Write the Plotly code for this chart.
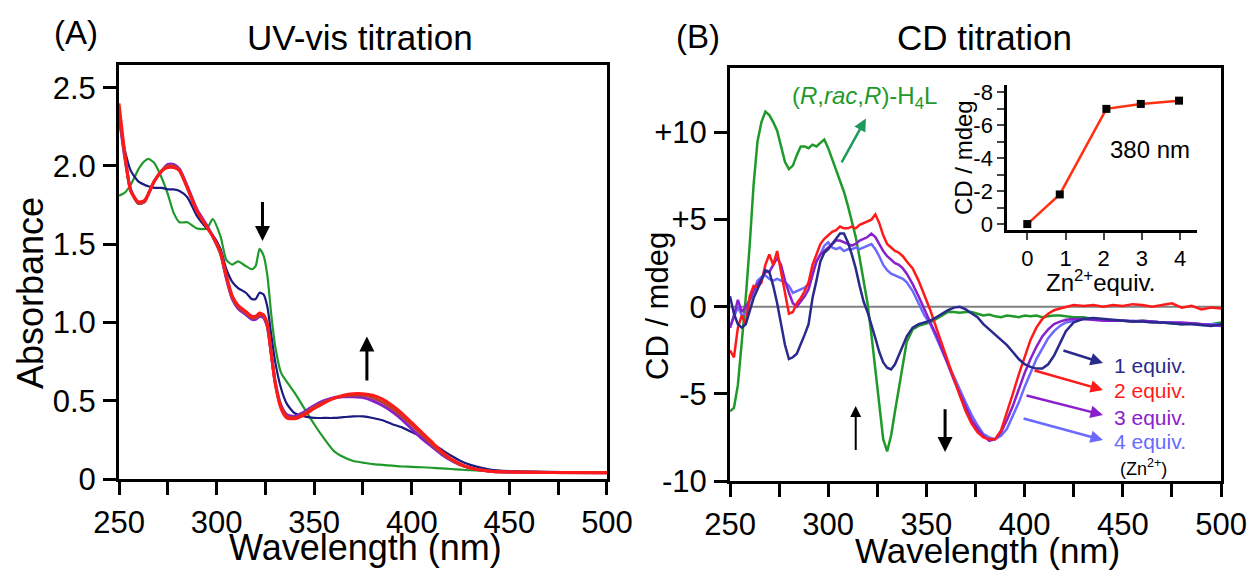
import plotly.graph_objects as go

# ---------------- Panel A: UV-vis titration ----------------
wl_a = [250, 253, 256, 260, 263, 265, 268, 272, 275, 278, 281, 285, 290, 295, 298, 302, 305, 308, 311, 315, 318, 320, 322, 324, 326, 328, 330, 333, 336, 340, 345, 350, 355, 360, 365, 370, 375, 380, 385, 390, 395, 400, 405, 410, 415, 420, 425, 430, 440, 450, 470, 500]
abs_ligand = [1.81, 1.83, 1.88, 1.98, 2.03, 2.045, 2.02, 1.92, 1.82, 1.70, 1.64, 1.64, 1.60, 1.60, 1.66, 1.55, 1.40, 1.37, 1.39, 1.36, 1.34, 1.36, 1.47, 1.43, 1.30, 1.05, 0.85, 0.68, 0.62, 0.55, 0.45, 0.35, 0.26, 0.18, 0.14, 0.115, 0.105, 0.095, 0.09, 0.085, 0.08, 0.078, 0.075, 0.072, 0.068, 0.064, 0.06, 0.056, 0.052, 0.048, 0.044, 0.04]
abs_eq1 = [2.30, 2.10, 1.97, 1.90, 1.88, 1.87, 1.86, 1.86, 1.85, 1.85, 1.84, 1.80, 1.68, 1.60, 1.56, 1.47, 1.34, 1.26, 1.22, 1.19, 1.15, 1.15, 1.19, 1.18, 1.10, 0.92, 0.75, 0.58, 0.48, 0.42, 0.40, 0.39, 0.39, 0.39, 0.395, 0.40, 0.40, 0.39, 0.375, 0.35, 0.33, 0.30, 0.27, 0.23, 0.19, 0.15, 0.115, 0.09, 0.06, 0.05, 0.045, 0.04]
abs_eq2 = [2.32, 2.05, 1.85, 1.76, 1.77, 1.82, 1.90, 1.97, 2.01, 2.01, 1.98, 1.87, 1.72, 1.62, 1.55, 1.44, 1.28, 1.15, 1.09, 1.05, 1.02, 1.02, 1.04, 1.03, 0.97, 0.80, 0.62, 0.47, 0.41, 0.40, 0.43, 0.47, 0.50, 0.52, 0.525, 0.525, 0.52, 0.50, 0.47, 0.43, 0.38, 0.32, 0.26, 0.21, 0.16, 0.12, 0.09, 0.07, 0.05, 0.045, 0.042, 0.04]
abs_eq3 = [2.35, 2.06, 1.84, 1.76, 1.77, 1.82, 1.90, 1.97, 2.00, 2.00, 1.97, 1.86, 1.71, 1.61, 1.55, 1.44, 1.29, 1.16, 1.10, 1.06, 1.03, 1.03, 1.05, 1.04, 0.98, 0.80, 0.62, 0.46, 0.40, 0.39, 0.42, 0.46, 0.49, 0.515, 0.53, 0.535, 0.535, 0.52, 0.49, 0.45, 0.40, 0.345, 0.285, 0.225, 0.17, 0.125, 0.09, 0.07, 0.05, 0.045, 0.042, 0.04]
abs_eq4 = [2.40, 2.08, 1.84, 1.77, 1.78, 1.82, 1.90, 1.97, 1.99, 1.99, 1.97, 1.86, 1.71, 1.61, 1.55, 1.45, 1.30, 1.17, 1.11, 1.07, 1.04, 1.04, 1.06, 1.05, 0.99, 0.80, 0.61, 0.45, 0.39, 0.385, 0.41, 0.45, 0.485, 0.515, 0.535, 0.545, 0.545, 0.535, 0.51, 0.47, 0.42, 0.36, 0.30, 0.24, 0.18, 0.13, 0.095, 0.07, 0.05, 0.045, 0.042, 0.04]

# ---------------- Panel B: CD titration ----------------
wl_b = [250, 252, 254, 256, 258, 260, 262, 264, 266, 268, 270, 272, 274, 276, 278, 280, 282, 284, 286, 288, 290, 292, 294, 296, 298, 300, 302, 304, 306, 308, 310, 312, 314, 316, 318, 320, 322, 324, 326, 328, 330, 332, 334, 336, 338, 340, 343, 346, 349, 352, 355, 358, 361, 364, 367, 370, 373, 376, 379, 382, 385, 388, 391, 394, 397, 400, 403, 406, 409, 412, 415, 418, 421, 425, 430, 435, 440, 445, 450, 455, 460, 465, 470, 475, 480, 485, 490, 495, 500]
cd_ligand = [-6.0, -5.8, -4.5, -2.0, 0.5, 3.5, 7.0, 9.5, 10.6, 11.2, 11.0, 10.6, 10.1, 9.2, 8.3, 7.9, 8.1, 8.7, 9.2, 9.2, 9.1, 9.3, 9.2, 9.4, 9.6, 9.1, 8.5, 7.9, 7.2, 6.6, 5.8, 4.9, 4.0, 2.8, 1.5, 0.2, -1.6, -3.6, -5.8, -7.6, -8.3, -7.4, -6.0, -4.6, -3.2, -2.0, -1.3, -1.1, -1.0, -0.9, -0.7, -0.5, -0.3, -0.3, -0.35, -0.3, -0.3, -0.4, -0.5, -0.45, -0.55, -0.6, -0.5, -0.55, -0.6, -0.5, -0.55, -0.5, -0.6, -0.55, -0.5, -0.5, -0.55, -0.6, -0.6, -0.7, -0.75, -0.8, -0.8, -0.85, -0.8, -0.85, -0.9, -0.95, -1.0, -0.95, -1.0, -1.0, -0.9]
cd_eq1 = [0.6, -0.4, -1.0, -1.2, -1.0, -0.2, 0.5, 1.0, 1.6, 2.1, 2.0, 1.2, 0.2, -1.0, -2.2, -3.0, -2.9, -2.7, -2.2, -1.6, -1.0, 0.5, 1.5, 2.6, 3.1, 3.3, 3.6, 3.9, 4.2, 4.2, 3.7, 3.0, 2.2, 1.2, 0.3, -0.3, -1.0, -1.8, -2.6, -3.2, -3.5, -3.6, -3.3, -2.8, -2.2, -1.7, -1.2, -1.0, -0.9, -0.8, -0.6, -0.4, -0.2, -0.05, 0.0, -0.15, -0.35, -0.6, -1.0, -1.3, -1.6, -1.9, -2.2, -2.6, -3.0, -3.3, -3.45, -3.55, -3.55, -3.3, -2.8, -2.1, -1.4, -0.9, -0.7, -0.65, -0.7, -0.75, -0.8, -0.85, -0.85, -0.9, -0.9, -0.95, -1.0, -1.0, -1.05, -1.1, -1.0]
cd_eq2 = [-2.5, -2.9, -1.2, -0.5, -1.0, 0.6, 1.2, 1.1, 1.4, 2.4, 3.0, 2.4, 3.2, 2.0, 0.6, -0.4, -0.3, 0.2, 0.5, 0.9, 1.4, 2.4, 3.0, 3.6, 3.9, 4.1, 4.3, 4.4, 4.6, 4.5, 4.5, 4.6, 4.5, 4.7, 4.8, 4.9, 5.0, 5.3, 4.8, 4.1, 3.6, 3.4, 3.2, 3.1, 2.9, 2.6, 2.2, 1.5, 0.7, -0.2, -1.2, -2.2, -3.2, -4.2, -5.1, -6.0, -6.7, -7.2, -7.5, -7.6, -7.6, -7.1, -6.1, -5.0, -3.9, -2.9, -1.9, -1.2, -0.7, -0.4, -0.2, -0.1, 0.0, 0.1, 0.05, 0.1, 0.0, 0.1, 0.05, 0.15, 0.1, 0.0, 0.1, 0.2, -0.05, 0.05, -0.15, -0.05, -0.1]
cd_eq3 = [-1.2, -0.5, 0.4, -0.3, 0.0, 0.4, 0.9, 1.3, 1.6, 2.0, 2.0, 2.4, 2.8, 2.4, 1.5, 0.8, 0.2, 0.0, 0.3, 0.6, 1.0, 1.8, 2.6, 3.0, 3.2, 3.4, 3.6, 3.8, 3.8, 3.7, 3.6, 3.5, 3.6, 3.8, 3.9, 4.0, 4.2, 4.0, 3.6, 3.2, 2.9, 2.7, 2.5, 2.4, 2.2, 1.9, 1.3, 0.6, -0.2, -0.9, -1.6, -2.5, -3.3, -4.2, -5.0, -5.8, -6.5, -7.0, -7.4, -7.7, -7.6, -7.2, -6.5, -5.7, -4.7, -3.8, -3.0, -2.3, -1.7, -1.3, -1.0, -0.85, -0.75, -0.7, -0.7, -0.75, -0.8, -0.8, -0.8, -0.85, -0.8, -0.85, -0.9, -0.9, -0.9, -0.95, -1.0, -1.05, -1.1]
cd_eq4 = [-1.2, -0.6, 0.0, -0.5, -0.4, 0.3, 0.9, 1.5, 1.7, 1.8, 1.6, 1.5, 1.6, 1.5, 1.4, 1.2, 0.8, 0.9, 1.0, 1.1, 1.3, 2.0, 2.6, 3.0, 3.5, 3.7, 3.4, 3.3, 3.4, 3.2, 3.3, 3.3, 3.4, 3.3, 3.4, 3.5, 3.6, 3.3, 2.9, 2.4, 2.1, 1.9, 1.8, 1.7, 1.6, 1.4, 0.9, 0.2, -0.5, -1.0, -1.8, -2.6, -3.3, -4.0, -4.8, -5.5, -6.2, -6.8, -7.3, -7.5, -7.6, -7.4, -7.0, -6.3, -5.5, -4.6, -3.8, -3.0, -2.4, -1.8, -1.4, -1.1, -0.9, -0.8, -0.7, -0.7, -0.75, -0.8, -0.8, -0.8, -0.85, -0.85, -0.9, -0.9, -0.95, -0.95, -1.0, -1.0, -1.0]

# ---------------- Inset: CD at 380 nm vs Zn2+ equiv ----------------
zn_equiv = [0, 0.85, 2.07, 2.97, 3.97]
cd_380 = [0.0, -1.8, -7.0, -7.3, -7.5]

# tick labels
a_xticks = list(range(250, 501, 25))
a_xticktext = [str(v) if v % 50 == 0 else "" for v in a_xticks]
a_yticks = [0, 0.5, 1.0, 1.5, 2.0, 2.5]
a_yticktext = ["0", "0.5", "1.0", "1.5", "2.0", "2.5"]
b_yticks = [-10, -5, 0, 5, 10]
b_yticktext = ["-10", "-5", "0", "+5", "+10"]
in_yticks = [-8, -7, -6, -5, -4, -3, -2, -1, 0]
in_yticktext = ["-8", "", "-6", "", "-4", "", "-2", "", "0"]
in_xticks = [0, 1, 2, 3, 4]

FONT = "Liberation Sans, Arial, sans-serif"
C_GREEN = "#1f9a2a"
C_NAVY = "#2a2a8c"
C_RED = "#ff1a1a"
C_PURPLE = "#8a20cc"
C_BROWN = "#b8402a"
C_LBLUE = "#6a6aff"

fig = go.Figure()

# Panel A traces
fig.add_trace(go.Scatter(x=wl_a, y=abs_ligand, mode="lines", line=dict(color=C_GREEN, width=2.2, shape="spline", smoothing=0.6), xaxis="x", yaxis="y"))
fig.add_trace(go.Scatter(x=wl_a, y=abs_eq1, mode="lines", line=dict(color="#1a1a80", width=2.2, shape="spline", smoothing=0.6), xaxis="x", yaxis="y"))
fig.add_trace(go.Scatter(x=wl_a, y=abs_eq2, mode="lines", line=dict(color=C_PURPLE, width=3, shape="spline", smoothing=0.6), xaxis="x", yaxis="y"))
fig.add_trace(go.Scatter(x=wl_a, y=abs_eq3, mode="lines", line=dict(color=C_BROWN, width=3, shape="spline", smoothing=0.6), xaxis="x", yaxis="y"))
fig.add_trace(go.Scatter(x=wl_a, y=abs_eq4, mode="lines", line=dict(color=C_RED, width=3, shape="spline", smoothing=0.6), xaxis="x", yaxis="y"))

# Panel B traces
fig.add_trace(go.Scatter(x=[250, 500], y=[0, 0], mode="lines", line=dict(color="#808080", width=2), xaxis="x2", yaxis="y2"))
fig.add_trace(go.Scatter(x=wl_b, y=cd_ligand, mode="lines", line=dict(color=C_GREEN, width=2.5), xaxis="x2", yaxis="y2"))
fig.add_trace(go.Scatter(x=wl_b, y=cd_eq4, mode="lines", line=dict(color=C_LBLUE, width=2.5), xaxis="x2", yaxis="y2"))
fig.add_trace(go.Scatter(x=wl_b, y=cd_eq3, mode="lines", line=dict(color=C_PURPLE, width=2.5), xaxis="x2", yaxis="y2"))
fig.add_trace(go.Scatter(x=wl_b, y=cd_eq2, mode="lines", line=dict(color=C_RED, width=2.5), xaxis="x2", yaxis="y2"))
fig.add_trace(go.Scatter(x=wl_b, y=cd_eq1, mode="lines", line=dict(color=C_NAVY, width=2.5), xaxis="x2", yaxis="y2"))

# Inset trace
fig.add_trace(go.Scatter(x=zn_equiv, y=cd_380, mode="lines+markers",
                         line=dict(color="#ff3010", width=2.5),
                         marker=dict(symbol="square", size=8, color="black"),
                         xaxis="x3", yaxis="y3"))

axis_common = dict(showline=True, linecolor="black", linewidth=3, mirror=True,
                   ticks="outside", ticklen=13, tickwidth=2.5, tickcolor="black",
                   showgrid=False, zeroline=False, automargin=False,
                   ticklabelstandoff=1,
                   tickfont=dict(family=FONT, size=31, color="black"))
inset_common = dict(showline=True, linecolor="black", linewidth=2.5, ticks="outside",
                    ticklen=7, tickwidth=2, showgrid=False, zeroline=False,
                    automargin=False,
                    tickfont=dict(family=FONT, size=22, color="black"))

fig.update_layout(
    template="none",
    width=1258, height=571,
    margin=dict(l=0, r=0, t=0, b=0, autoexpand=False),
    paper_bgcolor="white", plot_bgcolor="rgba(0,0,0,0)",
    showlegend=False,
    font=dict(family=FONT, color="black"),
    xaxis=dict(domain=[0.0946, 0.4825], range=[250, 500], tickmode="array",
               tickvals=a_xticks, ticktext=a_xticktext, anchor="y", **axis_common),
    yaxis=dict(domain=[0.1611, 0.8862], range=[0, 2.645], tickmode="array",
               tickvals=a_yticks, ticktext=a_yticktext, anchor="x", **axis_common),
    xaxis2=dict(domain=[0.5803, 0.9706], range=[250, 500], tickmode="array",
                tickvals=a_xticks, ticktext=a_xticktext, anchor="y2", **axis_common),
    yaxis2=dict(domain=[0.1576, 0.8809], range=[-10, 13.7], tickmode="array",
                tickvals=b_yticks, ticktext=b_yticktext, anchor="x2", **axis_common),
    xaxis3=dict(domain=[0.8005, 0.9515], range=[-0.53, 4.44], tickmode="array",
                tickvals=in_xticks, anchor="y3", **inset_common),
    yaxis3=dict(domain=[0.5972, 0.8511], range=[0.36, -8.45], tickmode="array",
                tickvals=in_yticks, ticktext=in_yticktext, anchor="x3", **inset_common),
)

ann = []
def txt(x, y, s, size, color="black", xref="paper", yref="paper", xanchor="center", yanchor="middle", angle=0):
    ann.append(dict(x=x, y=y, xref=xref, yref=yref, text=s, showarrow=False,
                    font=dict(family=FONT, size=size, color=color),
                    xanchor=xanchor, yanchor=yanchor, textangle=angle))

W, H = 1258.0, 571.0
def px(xp, yp):
    return xp / W, 1 - yp / H

# panel labels and titles
txt(*px(76, 33), "(A)", 33)
txt(*px(360, 38), "UV-vis titration", 35)
txt(*px(698, 36), "(B)", 33)
txt(*px(984, 38), "CD titration", 35)
# axis titles
txt(*px(365, 547), "Wavelength (nm)", 36)
txt(*px(987, 550), "Wavelength (nm)", 35)
txt(*px(30, 293), "Absorbance", 36, angle=-90)
txt(*px(657, 306), "CD / mdeg", 31, angle=-90)
# inset titles
txt(*px(963, 158), "CD / mdeg", 24, angle=-90)
txt(*px(1100, 281), "Zn<sup>2+</sup>equiv.", 24)
txt(*px(1150, 149), "380 nm", 24)

# ligand label in panel B
txt(318.7, 12.0, "(<i>R</i>,<i>rac</i>,<i>R</i>)-H<sub>4</sub>L", 24, color=C_GREEN, xref="x2", yref="y2")
# equiv labels
txt(444.5, -3.35, "1 equiv.", 21, color=C_NAVY, xref="x2", yref="y2", xanchor="left")
txt(444.5, -4.78, "2 equiv.", 21, color=C_RED, xref="x2", yref="y2", xanchor="left")
txt(444.5, -6.33, "3 equiv.", 21, color=C_PURPLE, xref="x2", yref="y2", xanchor="left")
txt(444.5, -7.76, "4 equiv.", 21, color=C_LBLUE, xref="x2", yref="y2", xanchor="left")
txt(460.3, -9.25, "(Zn<sup>2+</sup>)", 18, xref="x2", yref="y2")

def arrow(x, y, ax, ay, xr, yr, color="black", width=3, head=2, size=1.0):
    ann.append(dict(x=x, y=y, ax=ax, ay=ay, xref=xr, yref=yr, axref=xr, ayref=yr,
                    text="", showarrow=True, arrowhead=head, arrowsize=size,
                    arrowwidth=width, arrowcolor=color))

# panel A arrows
arrow(323.5, 1.52, 323.5, 1.78, "x", "y", width=3, head=2, size=1.0)
arrow(377, 0.91, 377, 0.62, "x", "y", width=3, head=2, size=1.0)
# panel B arrows
arrow(314, -5.7, 314, -8.3, "x2", "y2", width=2, head=2, size=1.1)
arrow(359.5, -8.33, 359.5, -5.8, "x2", "y2", width=3, head=2, size=1.0)
arrow(319.2, 10.8, 306.4, 8.2, "x2", "y2", color="#1f9a5a", width=2.5, head=2, size=1.0)
arrow(439.9, -3.23, 419.0, -2.48, "x2", "y2", color=C_NAVY, width=2.5, head=2, size=1.0)
arrow(439.9, -4.78, 404.3, -3.63, "x2", "y2", color=C_RED, width=2.5, head=2, size=1.0)
arrow(439.9, -6.21, 400.2, -5.07, "x2", "y2", color=C_PURPLE, width=2.5, head=2, size=1.0)
arrow(439.9, -7.65, 398.7, -6.39, "x2", "y2", color=C_LBLUE, width=2.5, head=2, size=1.0)

fig.update_layout(annotations=ann)
fig.write_html("out.html")
